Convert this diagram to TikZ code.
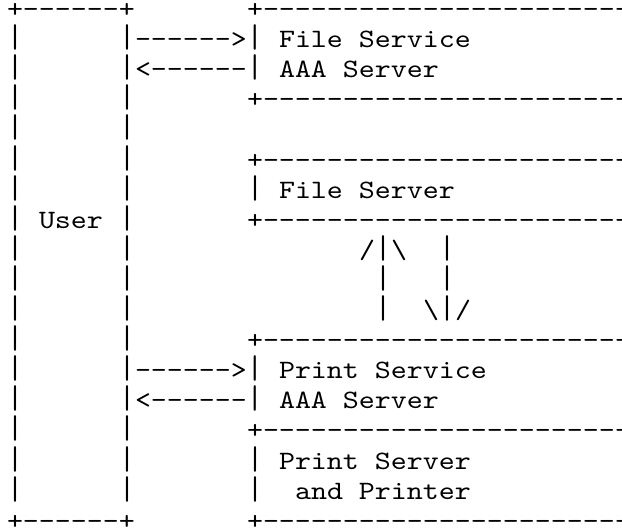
\documentclass[tikz,border=0pt]{standalone}
\usepackage{fontspec}
\setmonofont{lmmono10-regular}[Extension=.otf,FakeStretch=1.15]
\usepackage{graphicx}
\usepackage{tikz}
\usetikzlibrary{positioning}
\newcommand\vb{\scalebox{1}[1.24]{|}}

\begin{document}
\begin{tikzpicture}[x=1pt,y=1pt,
ascii/.style={inner sep=0pt,outer sep=0pt,anchor=base west,
font=\ttfamily\fontsize{26.5}{30}\selectfont},
]
\useasboundingbox (0,0) rectangle (622,-531);
\clip (0,0) rectangle (622,-531);
\begin{scope}[x=16pt,y=-30.1pt,shift={(7pt,-17.5pt)}]
% user box
\node (utop) [ascii] at (0,0) {+------+};
\node (ubot) [ascii] at (0,17) {+------+};
\foreach \r in {1,...,16}
  \node (ul\r) [ascii] at (0,\r) {\vb};
\foreach \r in {3,4,5,6,7,8,9,10,11,14,15,16}
  \node (ur\r) [ascii] at (7,\r) {\vb};
\node (user) [ascii] at (2,7) {User};
% server boxes
\foreach \r in {0,3,5,7,11,14,17}
  \node (rule\r) [ascii] at (15,\r) {+-----------------------};
\node (fsreq) [ascii] at (7,1) {\vb------>\vb};
\node (fsrep) [ascii] at (7,2) {\vb<------\vb};
\node (fsaaa1) [ascii] at (17,1) {File Service};
\node (fsaaa2) [ascii] at (17,2) {AAA Server};
\node (fsbar) [ascii] at (15,6) {\vb};
\node (fs) [ascii] at (17,6) {File Server};
\node (up1) [ascii] at (22,8) {/\vb\textbackslash};
\node (up2) [ascii] at (23,9) {\vb};
\node (up3) [ascii] at (23,10) {\vb};
\node (dn1) [ascii] at (27,8) {\vb};
\node (dn2) [ascii] at (27,9) {\vb};
\node (dn3) [ascii] at (26,10) {\textbackslash\vb/};
\node (psreq) [ascii] at (7,12) {\vb------>\vb};
\node (psrep) [ascii] at (7,13) {\vb<------\vb};
\node (psaaa1) [ascii] at (17,12) {Print Service};
\node (psaaa2) [ascii] at (17,13) {AAA Server};
\node (psbar1) [ascii] at (15,15) {\vb};
\node (psbar2) [ascii] at (15,16) {\vb};
\node (ps1) [ascii] at (17,15) {Print Server};
\node (ps2) [ascii] at (18,16) {and Printer};
\end{scope}
\end{tikzpicture}
\end{document}
